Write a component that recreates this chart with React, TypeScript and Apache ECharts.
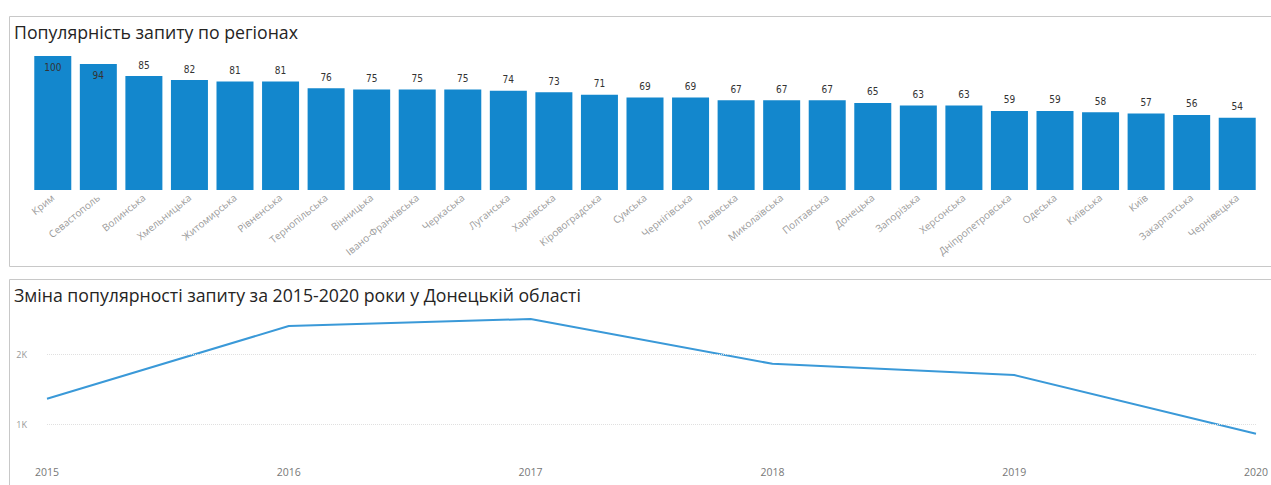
import React, { useEffect, useRef } from "react";
import * as echarts from "echarts";

const regions = [
  "Крим", "Севастополь", "Волинська", "Хмельницька", "Житомирська", "Рівненська",
  "Тернопільська", "Вінницька", "Івано-Франківська", "Черкаська", "Луганська",
  "Харківська", "Кіровоградська", "Сумська", "Чернігівська", "Львівська",
  "Миколаївська", "Полтавська", "Донецька", "Запорізька", "Херсонська",
  "Дніпропетровська", "Одеська", "Київська", "Київ", "Закарпатська", "Чернівецька",
];
const popularity = [100, 94, 85, 82, 81, 81, 76, 75, 75, 75, 74, 73, 71, 69, 69, 67, 67, 67, 65, 63, 63, 59, 59, 58, 57, 56, 54];

const years = ["2015", "2016", "2017", "2018", "2019", "2020"];
const donetskTrend = [1360, 2400, 2500, 1860, 1700, 860];
const gridValues = [1000, 2000];

const titleTop = "Популярність запиту по регіонах";
const titleBottom = "Зміна популярності запиту за 2015-2020 роки у Донецькій області";

export default function App() {
  const ref = useRef<HTMLDivElement>(null);
  useEffect(() => {
    if (!ref.current) return;
    const chart = echarts.init(ref.current, null, { renderer: "svg" });
    const insideCount = 2;
    const barData = popularity.map((v, i) =>
      i < insideCount
        ? { value: v, label: { position: "insideTop", distance: 6 } }
        : { value: v }
    );
    const titleStyle = { fontFamily: "Open Sans", fontSize: 17.7, fontWeight: "normal", color: "#252423" };
    chart.setOption({
      animation: false,
      textStyle: { fontFamily: "Open Sans" },
      graphic: [
        {
          type: "rect",
          shape: { x: 9.5, y: 16.5, width: 1275, height: 250 },
          style: { fill: "none", stroke: "#c8c8c8", lineWidth: 1 },
          silent: true,
        },
        {
          type: "rect",
          shape: { x: 9.5, y: 279.5, width: 1275, height: 250 },
          style: { fill: "none", stroke: "#c8c8c8", lineWidth: 1 },
          silent: true,
        },
      ],
      title: [
        { text: titleTop, left: 9, top: 18, textStyle: titleStyle },
        { text: titleBottom, left: 9, top: 281, textStyle: titleStyle },
      ],
      grid: [
        { left: 30, right: 11, top: 56, height: 134, containLabel: false },
        { left: 47, right: 10, top: 298, bottom: 26, containLabel: false },
      ],
      xAxis: [
        {
          gridIndex: 0,
          type: "category",
          data: regions,
          axisLine: { show: false },
          axisTick: { show: false },
          axisLabel: {
            interval: 0,
            rotate: 39,
            margin: 6,
            fontSize: 10,
            color: "#9a9a9a",
            fontFamily: "Open Sans",
          },
        },
        {
          gridIndex: 1,
          type: "category",
          data: years,
          boundaryGap: false,
          axisLine: { show: false },
          axisTick: { show: false },
          axisLabel: { fontSize: 10.5, color: "#777", margin: 7, fontFamily: "Open Sans" },
        },
      ],
      yAxis: [
        { gridIndex: 0, type: "value", min: 0, max: 100, show: false },
        {
          gridIndex: 1,
          type: "value",
          min: 500,
          max: 2800,
          axisLine: { show: false },
          axisTick: { show: false },
          splitLine: { show: false },
          axisLabel: {
            customValues: gridValues,
            margin: 20,
            fontSize: 9,
            color: "#999",
            formatter: (v: number) => v / 1000 + "K",
          },
        },
      ],
      series: [
        {
          type: "bar",
          xAxisIndex: 0,
          yAxisIndex: 0,
          data: barData,
          barWidth: 37,
          itemStyle: { color: "#1387cd" },
          label: {
            show: true,
            position: "top",
            distance: 6,
            fontSize: 10,
            color: "#333",
            fontFamily: "DejaVu Sans Condensed",
          },
        },
        {
          type: "line",
          xAxisIndex: 1,
          yAxisIndex: 1,
          data: donetskTrend,
          showSymbol: false,
          symbol: "none",
          lineStyle: { color: "#3a99d8", width: 2 },
          markLine: {
            silent: true,
            symbol: "none",
            label: { show: false },
            lineStyle: { color: "#e0e0e0", type: "dotted", width: 1 },
            data: gridValues.map((v) => ({ yAxis: v })),
          },
        },
      ],
    });
    return () => chart.dispose();
  }, []);
  return (
    <div
      ref={ref}
      style={{ position: "fixed", left: 0, top: 0, width: 1271, height: 485, background: "#fff" }}
    />
  );
}
